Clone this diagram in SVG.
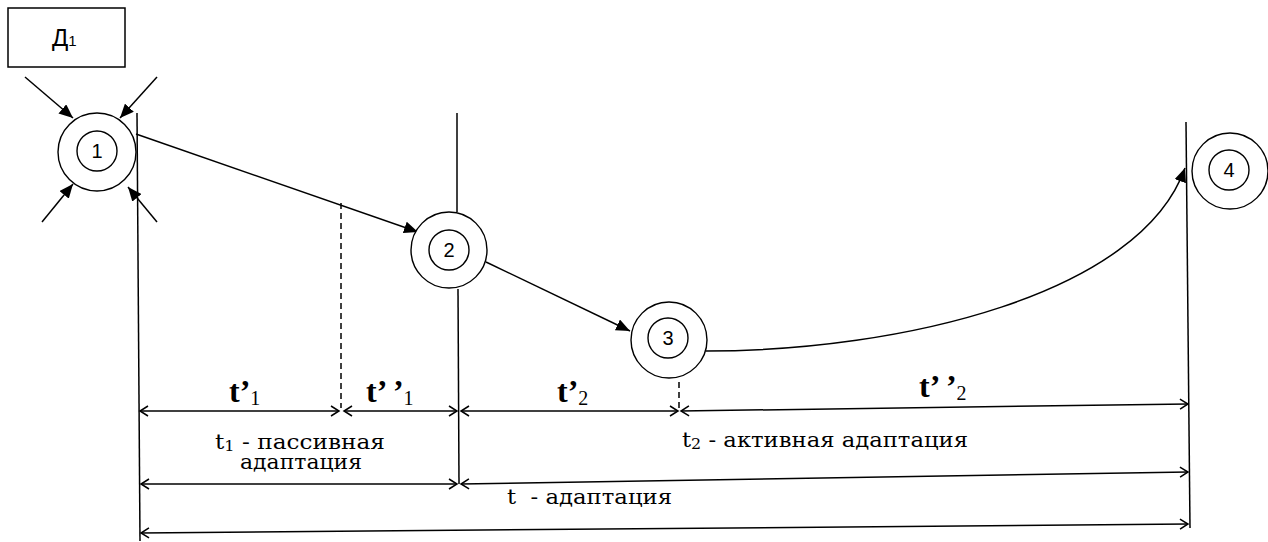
<svg xmlns="http://www.w3.org/2000/svg" width="1268" height="542" viewBox="0 0 1268 542">
<style>
.ln{stroke:#000;stroke-width:1.5;fill:none}
.dash{stroke:#000;stroke-width:1.5;fill:none;stroke-dasharray:6,4}
.cir{stroke:#000;stroke-width:1.4;fill:#fff}
.num{font-family:"Liberation Sans",Arial,sans-serif;font-size:20px;text-anchor:middle}
.big{font-family:"Liberation Serif","Times New Roman",serif;font-size:32px;font-weight:bold}
.sub{font-family:"Liberation Serif","Times New Roman",serif;font-size:20px;font-weight:normal}
.lbl{font-family:"DejaVu Serif","Liberation Serif",serif;font-size:20px}
</style>
<defs>
<marker id="tri" markerUnits="userSpaceOnUse" markerWidth="16" markerHeight="12" refX="14" refY="6" orient="auto">
<path d="M0,0 L14,6 L0,12 Z" fill="#000"/>
</marker>
<marker id="chev" markerUnits="userSpaceOnUse" markerWidth="12" markerHeight="12" refX="10" refY="6" orient="auto-start-reverse">
<path d="M2,1 L10,6 L2,11" fill="none" stroke="#000" stroke-width="1.5"/>
</marker>
</defs>
<rect width="1268" height="542" fill="#fff"/>

<g id="connectors">
<line class="ln" x1="25" y1="77" x2="73" y2="118" marker-end="url(#tri)"/>
<line class="ln" x1="157" y1="77" x2="120" y2="118" marker-end="url(#tri)"/>
<line class="ln" x1="42" y1="222" x2="73" y2="184" marker-end="url(#tri)"/>
<line class="ln" x1="157" y1="222" x2="128" y2="187" marker-end="url(#tri)"/>
<line class="ln" x1="136" y1="134" x2="418" y2="232" marker-end="url(#tri)"/>
<line class="ln" x1="486" y1="262" x2="630" y2="331" marker-end="url(#tri)"/>
<path class="ln" d="M706,351 C900,351 1140,295 1185,168" marker-end="url(#tri)"/>
</g>

<g id="verticals">
<line class="ln" x1="137" y1="113" x2="140" y2="541"/>
<line class="ln" x1="457" y1="113" x2="457" y2="212"/>
<line class="ln" x1="458" y1="289" x2="459" y2="484"/>
<line class="ln" x1="1186" y1="122" x2="1190" y2="528"/>
<line class="dash" x1="341" y1="203" x2="341" y2="408"/>
<line class="dash" x1="679" y1="382" x2="679" y2="408"/>
</g>

<g id="dimensions">
<line class="ln" x1="140" y1="411" x2="339" y2="411" marker-start="url(#chev)" marker-end="url(#chev)"/>
<line class="ln" x1="344" y1="411" x2="457" y2="411" marker-start="url(#chev)" marker-end="url(#chev)"/>
<line class="ln" x1="461" y1="411" x2="678" y2="411" marker-start="url(#chev)" marker-end="url(#chev)"/>
<line class="ln" x1="681" y1="411" x2="1188" y2="404" marker-start="url(#chev)" marker-end="url(#chev)"/>
<line class="ln" x1="141" y1="484" x2="457" y2="484" marker-start="url(#chev)" marker-end="url(#chev)"/>
<line class="ln" x1="461" y1="484" x2="1188" y2="472" marker-start="url(#chev)" marker-end="url(#chev)"/>
<line class="ln" x1="141" y1="533" x2="1188" y2="524" marker-start="url(#chev)" marker-end="url(#chev)"/>
</g>

<g id="d1">
<rect x="8" y="8" width="117" height="59" fill="#fff" stroke="#000" stroke-width="1.5"/>
<text x="52" y="46" font-family="'Liberation Sans',Arial,sans-serif" font-size="24px">Д<tspan font-size="15px">1</tspan></text>
</g>

<g id="n1">
<circle class="cir" cx="97" cy="152" r="39"/>
<circle class="cir" cx="97" cy="151" r="20"/>
<text class="num" x="97" y="158">1</text>
</g>
<g id="n2">
<circle class="cir" cx="449" cy="250" r="38"/>
<circle class="cir" cx="449" cy="250" r="20"/>
<text class="num" x="449" y="257">2</text>
</g>
<g id="n3">
<circle class="cir" cx="669" cy="340" r="38"/>
<circle class="cir" cx="668" cy="338" r="20"/>
<text class="num" x="668" y="345">3</text>
</g>
<g id="n4">
<circle class="cir" cx="1230" cy="171" r="38"/>
<circle class="cir" cx="1229" cy="170" r="20"/>
<text class="num" x="1229" y="177">4</text>
</g>

<g id="labels">
<text class="big" x="229" y="402">t’<tspan class="sub" dy="3">1</tspan></text>
<text class="big" x="366" y="402">t’ ’<tspan class="sub" dy="3">1</tspan></text>
<text class="big" x="557" y="402">t’<tspan class="sub" dy="3">2</tspan></text>
<text class="big" x="919" y="397">t’ ’<tspan class="sub" dy="3">2</tspan></text>
<text class="lbl" x="215" y="449" textLength="170" lengthAdjust="spacingAndGlyphs">t<tspan font-size="14px" dy="2">1</tspan><tspan dy="-2"> - пассивная</tspan></text>
<text class="lbl" x="240" y="469" textLength="122" lengthAdjust="spacingAndGlyphs">адаптация</text>
<text class="lbl" x="682" y="447" textLength="286" lengthAdjust="spacingAndGlyphs">t<tspan font-size="14px" dy="2">2</tspan><tspan dy="-2"> - активная адаптация</tspan></text>
<text class="lbl" x="507" y="504" textLength="165" lengthAdjust="spacingAndGlyphs" xml:space="preserve">t  - адаптация</text>
</g>
</svg>
